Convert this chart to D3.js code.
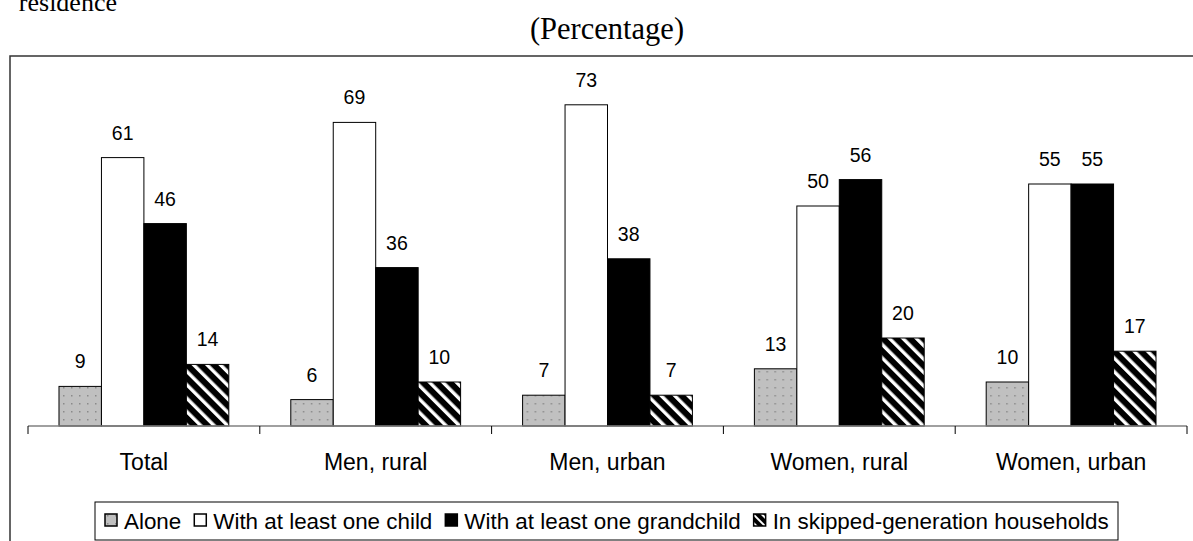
<!DOCTYPE html>
<html><head><meta charset="utf-8">
<script src="https://cdn.jsdelivr.net/npm/d3@7"></script>
<style>body{margin:0;background:#fff;overflow:hidden}svg{display:block}</style>
</head><body>
<svg id="c" width="1193" height="541"></svg>
<script>
const categories = ["Total", "Men, rural", "Men, urban", "Women, rural", "Women, urban"];
const seriesNames = ["Alone", "With at least one child", "With at least one grandchild", "In skipped-generation households"];
const alone = [9, 6, 7, 13, 10];
const child = [61, 69, 73, 50, 55];
const grandchild = [46, 36, 38, 56, 55];
const skipped = [14, 10, 7, 20, 17];
const seriesValues = [alone, child, grandchild, skipped];

const svg = d3.select("#c");
const defs = svg.append("defs");
const pd = defs.append("pattern").attr("id","dots").attr("patternUnits","userSpaceOnUse").attr("width",8).attr("height",8);
pd.append("rect").attr("width",8).attr("height",8).attr("fill","#c0c0c0");
pd.append("rect").attr("x",3).attr("y",3).attr("width",1.5).attr("height",1.5).attr("fill","#8a8a8a");
const ps = defs.append("pattern").attr("id","stripes").attr("patternUnits","userSpaceOnUse").attr("width",9.5).attr("height",9.5).attr("patternTransform","rotate(-45)");
ps.append("rect").attr("width",9.5).attr("height",9.5).attr("fill","#000");
ps.append("rect").attr("x",0).attr("width",3.4).attr("height",9.5).attr("fill","#fff");
const pss = defs.append("pattern").attr("id","stripesSmall").attr("patternUnits","userSpaceOnUse").attr("width",6).attr("height",6).attr("patternTransform","rotate(-45)");
pss.append("rect").attr("width",6).attr("height",6).attr("fill","#000");
pss.append("rect").attr("width",2).attr("height",6).attr("fill","#fff");
const fills = ["url(#dots)", "#fff", "#000", "url(#stripes)"];

svg.append("text").attr("x",117).attr("y",11).attr("text-anchor","end")
  .style("font-family","'Liberation Serif','Times New Roman',serif").style("font-size","26px").text("residence");
svg.append("text").attr("x",607).attr("y",39).attr("text-anchor","middle")
  .style("font-family","'Liberation Serif','Times New Roman',serif").style("font-size","30.5px").text("(Percentage)");

svg.append("rect").attr("x",10).attr("y",56).attr("width",1200).attr("height",520)
  .attr("fill","none").attr("stroke","#333").attr("stroke-width",1.5);

const x0 = d3.scaleBand().domain(categories).range([28, 1187]).paddingInner(0).paddingOuter(0);
const x1 = d3.scaleBand().domain(d3.range(4)).range([0, x0.bandwidth()]).paddingInner(0).paddingOuter(0.73);
const y = d3.scaleLinear().domain([0, 80]).range([426, 74]);

const groups = svg.append("g").selectAll("g").data(categories).join("g")
  .attr("transform", d => `translate(${x0(d)},0)`);

groups.each(function(cat, ci){
  const g = d3.select(this);
  seriesValues.forEach((vals, si) => {
    const v = vals[ci];
    g.append("rect").attr("x", x1(si)).attr("y", y(v)).attr("width", x1.bandwidth()).attr("height", y(0)-y(v))
      .attr("fill", fills[si]).attr("stroke","#000").attr("stroke-width",1);
    g.append("text").attr("x", x1(si)+x1.bandwidth()/2).attr("y", y(v)-18).attr("text-anchor","middle")
      .style("font-family","Arial,'Liberation Sans',sans-serif").style("font-size","19.5px").text(v);
  });
});

const axis = svg.append("g").attr("transform","translate(0,426)");
axis.append("line").attr("x1",28).attr("x2",1187).attr("stroke","#808080").attr("stroke-width",1.5);
const bounds = categories.map(c => x0(c)).concat([x0(categories[categories.length-1]) + x0.bandwidth()]);
axis.selectAll("line.tick").data(bounds).join("line").attr("class","tick")
  .attr("x1", d=>d).attr("x2", d=>d).attr("y1",0).attr("y2",8).attr("stroke","#000").attr("stroke-width",1);
axis.selectAll("text").data(categories).join("text")
  .attr("x", d => x0(d)+x0.bandwidth()/2).attr("y", 44).attr("text-anchor","middle")
  .style("font-family","Arial,'Liberation Sans',sans-serif").style("font-size","23px").text(d=>d);

const lg = svg.append("g");
lg.append("rect").attr("x",95).attr("y",502).attr("width",1023).attr("height",38)
  .attr("fill","#fff").attr("stroke","#000").attr("stroke-width",1);
let lx = 105;
seriesNames.forEach((name, i) => {
  lg.append("rect").attr("x", lx).attr("y", 514).attr("width", 12).attr("height", 12)
    .attr("fill", i===3 ? "url(#stripesSmall)" : fills[i]).attr("stroke","#000").attr("stroke-width",1.5);
  const t = lg.append("text").attr("x", lx+19).attr("y", 529)
    .style("font-family","Arial,'Liberation Sans',sans-serif").style("font-size","22.4px").text(name);
  lx = lx + 19 + t.node().getComputedTextLength() + 13;
});
</script>
</body></html>
